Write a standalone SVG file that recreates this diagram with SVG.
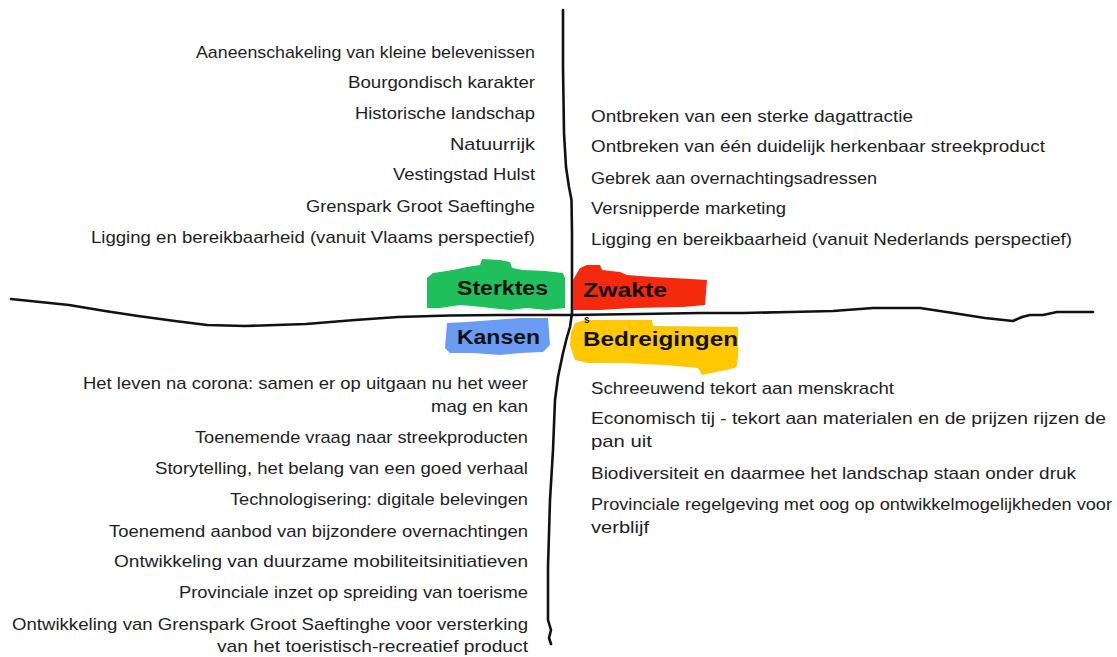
<svg xmlns="http://www.w3.org/2000/svg" width="1117" height="657" viewBox="0 0 1117 657">
  <style>
    .t { font-family: "Liberation Sans", Arial, sans-serif; font-size: 17px; fill: #1e1e1e; }
    .l { font-family: "Liberation Sans", Arial, sans-serif; font-size: 20px; font-weight: bold; fill: #111; }
    .ax { fill: none; stroke: #111; stroke-width: 2.6; stroke-linecap: round; stroke-linejoin: round; }
  </style>
  <rect width="1117" height="657" fill="#ffffff"/>

  <g id="connectors">
    <path class="ax" d="M563,10 L563,67 L564,133 L566,167 L569,187 L571.5,200 L572,233 L572,283 L572,313 L570,327 L567,337 L563,353 L558,377 L555,400 L553,450 L550,500 L548,567 L548,620 L551,630 L549,638 L551,644"/>
    <path class="ax" d="M11,299 L40,302 L69,305 L105,311 L138,316 L175,321 L207,325 L245,326 L306,324 L355,320 L398,317 L450,315.5 L500,315 L570,315 L640,314 L700,313 L743,313 L790,312 L833,311 L873,308 L920,308 L953,313 L985,318 L1013,321 L1022,317 L1030,315 L1043,315 L1057,312 L1093,312"/>
  </g>

  <g id="sterktes">
    <polygon fill="#1fbf5b" points="427,278 433,273 453,270 467,267 480,265 482,259 500,260 510,262 512,268 523,270 545,271 563,273 565,278 565,308 547,310 527,308 510,310 490,308 483,307 460,305 440,308 427,308"/>
    <text class="l" x="457" y="295" textLength="91" lengthAdjust="spacingAndGlyphs">Sterktes</text>
  </g>

  <g id="zwakte">
    <polygon fill="#f5290c" points="573,280 580,268 587,265 600,265 602,270 620,272 627,275 653,277 673,278 707,280 705,305 683,307 633,308 600,310 573,310"/>
    <text class="l" x="583" y="297" textLength="84" lengthAdjust="spacingAndGlyphs">Zwakte</text>
  </g>

  <g id="kansen">
    <polygon fill="#6a9cf4" points="447,323 467,322 493,320 520,318 548,318 550,345 543,352 520,353 500,355 473,353 450,353 445,348"/>
    <text class="l" x="457" y="344" textLength="83" lengthAdjust="spacingAndGlyphs">Kansen</text>
  </g>

  <g id="bedreigingen">
    <polygon fill="#ffc800" points="575,323 585,320 652,320 653,326 738,327 738,355 737,365 735,368 702,375 698,368 665,365 622,363 588,363 575,360 570,345 571,332"/>
    <text class="l" x="583" y="346" textLength="155" lengthAdjust="spacingAndGlyphs">Bedreigingen</text>
    <text class="l" x="584" y="323" style="font-size:10px">s</text>
  </g>

  <g id="sterktes-items" text-anchor="end">
    <text class="t" x="535" y="58" textLength="339" lengthAdjust="spacingAndGlyphs">Aaneenschakeling van kleine belevenissen</text>
    <text class="t" x="535" y="88" textLength="187" lengthAdjust="spacingAndGlyphs">Bourgondisch karakter</text>
    <text class="t" x="535" y="119" textLength="180" lengthAdjust="spacingAndGlyphs">Historische landschap</text>
    <text class="t" x="535" y="150" textLength="85" lengthAdjust="spacingAndGlyphs">Natuurrijk</text>
    <text class="t" x="535" y="180" textLength="142" lengthAdjust="spacingAndGlyphs">Vestingstad Hulst</text>
    <text class="t" x="535" y="212" textLength="229" lengthAdjust="spacingAndGlyphs">Grenspark Groot Saeftinghe</text>
    <text class="t" x="535" y="243" textLength="444" lengthAdjust="spacingAndGlyphs">Ligging en bereikbaarheid (vanuit Vlaams perspectief)</text>
  </g>

  <g id="zwakte-items">
    <text class="t" x="591" y="122" textLength="322" lengthAdjust="spacingAndGlyphs">Ontbreken van een sterke dagattractie</text>
    <text class="t" x="591" y="152" textLength="454" lengthAdjust="spacingAndGlyphs">Ontbreken van één duidelijk herkenbaar streekproduct</text>
    <text class="t" x="591" y="184" textLength="286" lengthAdjust="spacingAndGlyphs">Gebrek aan overnachtingsadressen</text>
    <text class="t" x="591" y="214" textLength="195" lengthAdjust="spacingAndGlyphs">Versnipperde marketing</text>
    <text class="t" x="591" y="245" textLength="481" lengthAdjust="spacingAndGlyphs">Ligging en bereikbaarheid (vanuit Nederlands perspectief)</text>
  </g>

  <g id="kansen-items" text-anchor="end">
    <text class="t" x="528" y="389" textLength="445" lengthAdjust="spacingAndGlyphs">Het leven na corona: samen er op uitgaan nu het weer</text>
    <text class="t" x="528" y="412" textLength="97" lengthAdjust="spacingAndGlyphs">mag en kan</text>
    <text class="t" x="528" y="443" textLength="333" lengthAdjust="spacingAndGlyphs">Toenemende vraag naar streekproducten</text>
    <text class="t" x="528" y="474" textLength="373" lengthAdjust="spacingAndGlyphs">Storytelling, het belang van een goed verhaal</text>
    <text class="t" x="528" y="505" textLength="298" lengthAdjust="spacingAndGlyphs">Technologisering: digitale belevingen</text>
    <text class="t" x="528" y="537" textLength="419" lengthAdjust="spacingAndGlyphs">Toenemend aanbod van bijzondere overnachtingen</text>
    <text class="t" x="528" y="567" textLength="414" lengthAdjust="spacingAndGlyphs">Ontwikkeling van duurzame mobiliteitsinitiatieven</text>
    <text class="t" x="528" y="598" textLength="349" lengthAdjust="spacingAndGlyphs">Provinciale inzet op spreiding van toerisme</text>
    <text class="t" x="528" y="630" textLength="516" lengthAdjust="spacingAndGlyphs">Ontwikkeling van Grenspark Groot Saeftinghe voor versterking</text>
    <text class="t" x="528" y="652" textLength="311" lengthAdjust="spacingAndGlyphs">van het toeristisch-recreatief product</text>
  </g>

  <g id="bedreigingen-items">
    <text class="t" x="591" y="394" textLength="303" lengthAdjust="spacingAndGlyphs">Schreeuwend tekort aan menskracht</text>
    <text class="t" x="591" y="424" textLength="515" lengthAdjust="spacingAndGlyphs">Economisch tij - tekort aan materialen en de prijzen rijzen de</text>
    <text class="t" x="591" y="447" textLength="61" lengthAdjust="spacingAndGlyphs">pan uit</text>
    <text class="t" x="591" y="479" textLength="485" lengthAdjust="spacingAndGlyphs">Biodiversiteit en daarmee het landschap staan onder druk</text>
    <text class="t" x="591" y="510" textLength="521" lengthAdjust="spacingAndGlyphs">Provinciale regelgeving met oog op ontwikkelmogelijkheden voor</text>
    <text class="t" x="591" y="533" textLength="58" lengthAdjust="spacingAndGlyphs">verblijf</text>
  </g>
</svg>
